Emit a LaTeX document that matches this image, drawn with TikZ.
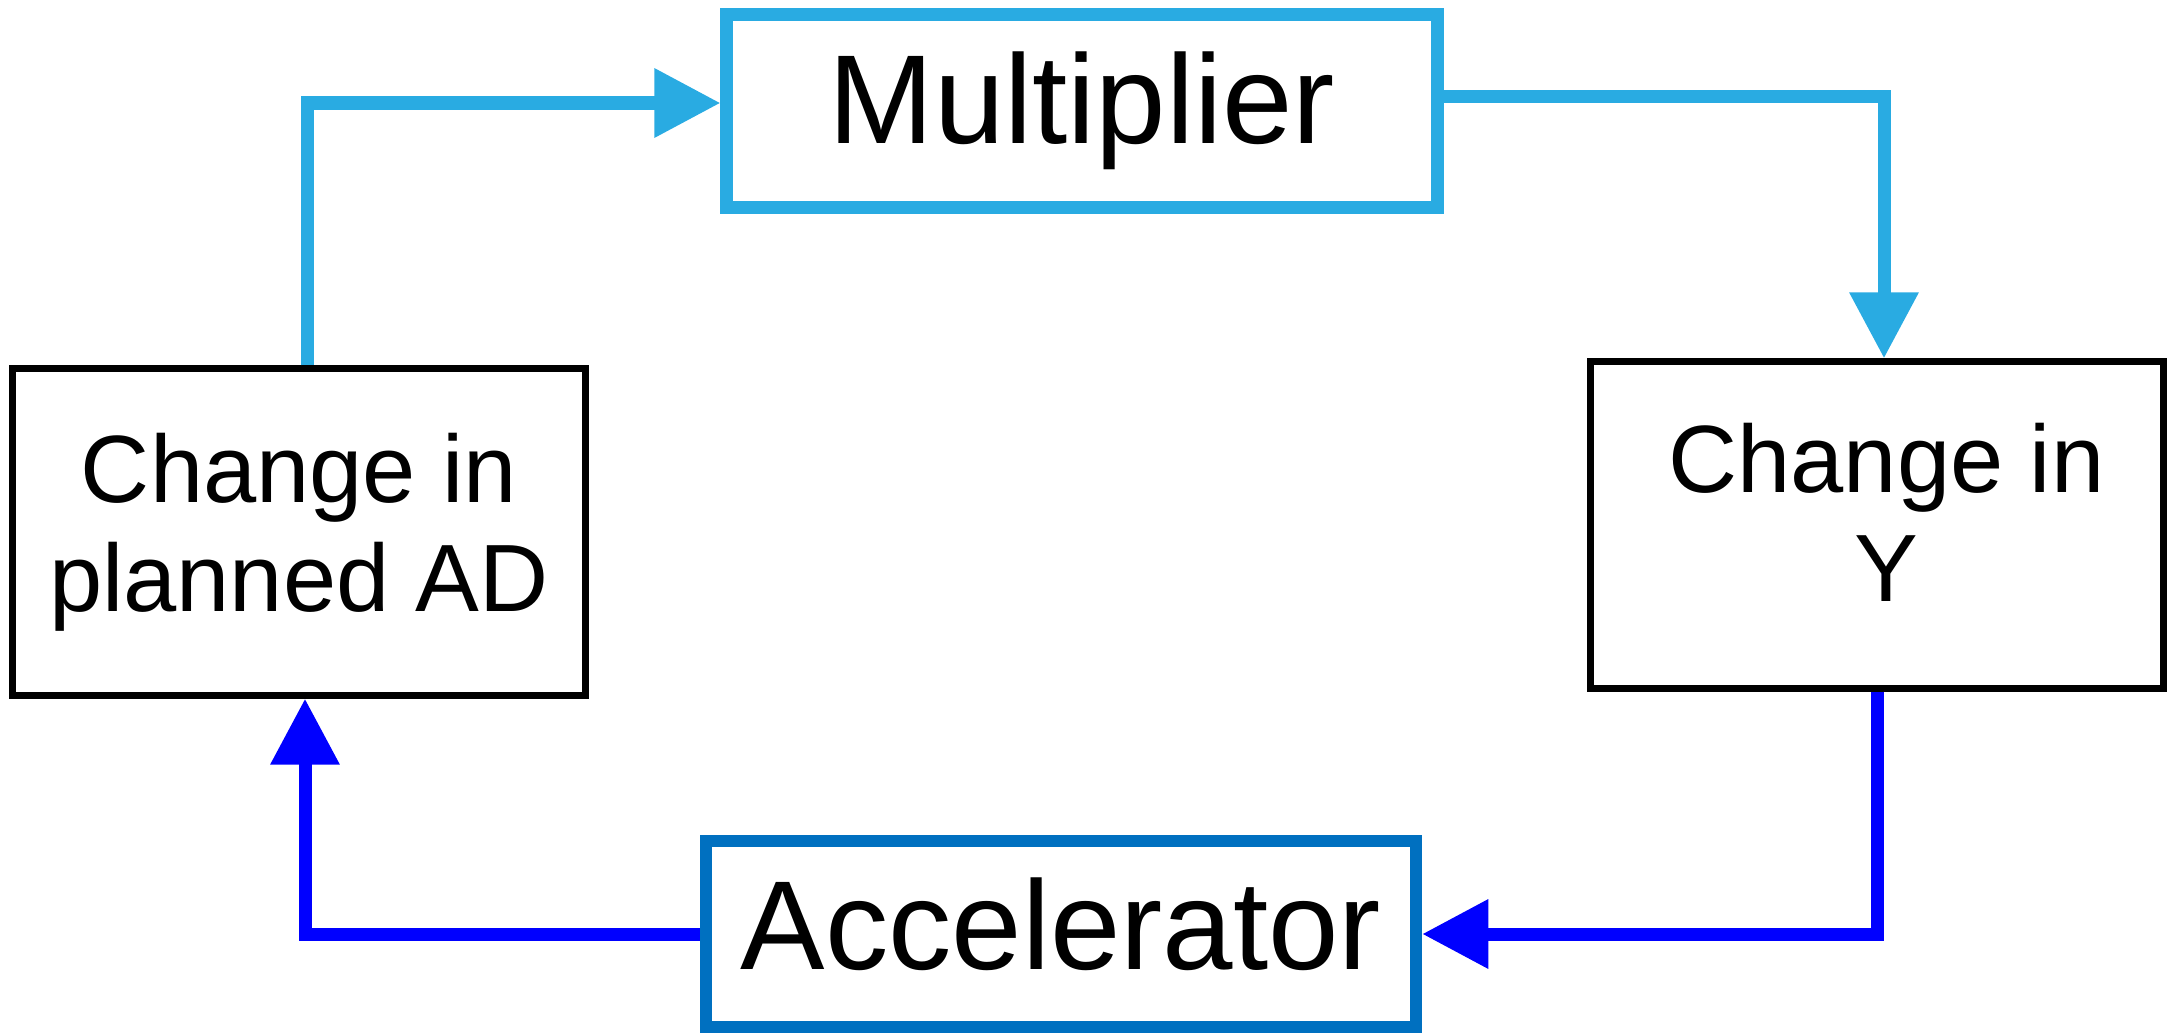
\documentclass[tikz,border=0pt]{standalone}
\usepackage{fontspec}
\setmainfont{Liberation Sans}
\usetikzlibrary{arrows.meta, positioning, calc}
\definecolor{skyline}{RGB}{41,171,226}
\definecolor{accblue}{RGB}{0,112,192}
\definecolor{loopblue}{RGB}{0,0,255}

\begin{document}
\begin{tikzpicture}[x=0.01cm, y=-0.01cm,
    bigbox/.style={rectangle, draw, inner sep=0pt, minimum width=7.1cm, font=\fontsize{36}{43}\selectfont},
    smallbox/.style={rectangle, draw=black, line width=0.07cm, inner sep=0pt, align=center,
        minimum width=5.72cm, minimum height=3.26cm, font=\fontsize{27.2}{31}\selectfont},
    flow/.style={line width=0.13cm, -{Triangle[length=0.66cm, width=0.66cm]}}]
    \useasboundingbox (0,0) rectangle (2168,1033);

    % the four boxes
    \node [bigbox, draw=skyline, line width=0.126cm, minimum height=1.93cm] (mult) at (1082,111) {Multiplier};
    \node [bigbox, draw=accblue, line width=0.12cm, minimum height=1.85cm, text depth=0.2cm] (acc) at (1061,934) {Accelerator};
    \node [smallbox] (ad) at (299,532) {Change in\\planned AD};
    \node [smallbox, text depth=0.26cm] (dy) at (1877,525) {\hspace*{0.19cm}Change in\\\hspace*{0.19cm}Y};

    % connectors
    \draw [flow, skyline] ([xshift=0.08cm]ad.north) |- ([yshift=0.08cm]mult.west);
    \draw [flow, skyline] ([yshift=0.14cm]mult.east) -| ([xshift=0.07cm]dy.north);
    \draw [flow, loopblue] (dy.south) |- (acc.east);
    \draw [flow, loopblue] (acc.west) -| ([xshift=0.06cm]ad.south);
\end{tikzpicture}
\end{document}
